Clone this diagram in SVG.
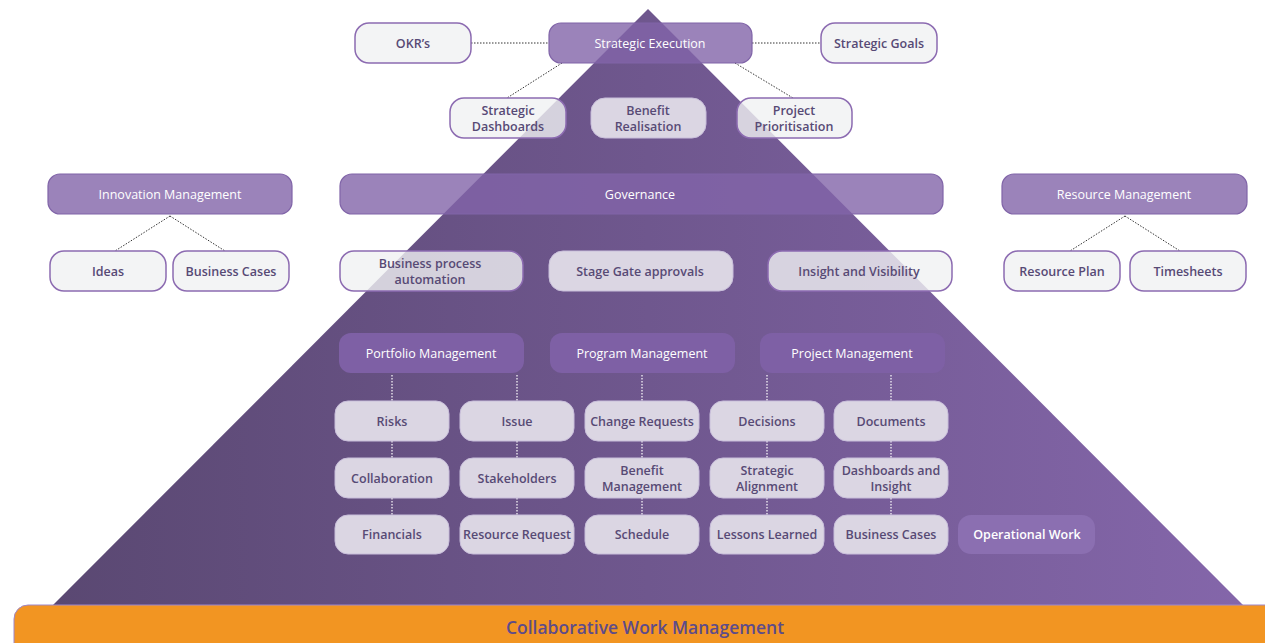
<svg xmlns="http://www.w3.org/2000/svg" width="1265" height="643" viewBox="0 0 1265 643">
<defs>
<linearGradient id="tri" x1="53" y1="0" x2="1243" y2="0" gradientUnits="userSpaceOnUse">
<stop offset="0" stop-color="#5a4872"/>
<stop offset="1" stop-color="#8466aa"/>
</linearGradient>
<style>
.lt{fill:#f0f1f2;fill-opacity:0.8;stroke:#8c6bb1;stroke-width:1.5}
.in{fill:#dbd6e3;stroke:#c9bfdb;stroke-width:1}
.pu{fill:#8264a9;fill-opacity:0.8;stroke:#8064a8;stroke-width:1.2}
.pm{fill:#7e60a5;stroke:none}
.op{fill:#8b6fb1;stroke:none}
text{font-family:"Open Sans","Noto Sans","Liberation Sans",sans-serif;font-size:12.5px;text-anchor:middle;dominant-baseline:central}
.td{fill:#574a75;font-weight:600}
.tw{fill:#ffffff;font-weight:500}
.dk{stroke:#333;stroke-width:1;stroke-dasharray:1.5 1.5;fill:none}
.wh{stroke:#ffffff;stroke-width:1.2;stroke-dasharray:1.5 1.5;fill:none}
</style>
</defs>
<rect width="1265" height="643" fill="#ffffff"/>
<polygon id="pyramid" points="648,9 53,605 1243,605" fill="url(#tri)"/>
<g id="connectors">
<line class="dk" x1="471" y1="43" x2="549" y2="43"/>
<line class="dk" x1="752" y1="43" x2="821" y2="43"/>
<line class="dk" x1="562" y1="63" x2="507" y2="98"/>
<line class="dk" x1="735" y1="63" x2="793" y2="98"/>
<line class="dk" x1="170" y1="216" x2="115" y2="251"/>
<line class="dk" x1="170" y1="216" x2="225" y2="251"/>
<line class="dk" x1="1125" y1="216" x2="1070" y2="251"/>
<line class="dk" x1="1125" y1="216" x2="1180" y2="251"/>
<path class="wh" d="M392 375V401M392 441V458M392 498V515M517 375V401M517 441V458M517 498V515M642 375V401M642 441V458M642 498V515M767 375V401M767 441V458M767 498V515M891 375V401M891 441V458M891 498V515"/>
</g>
<g id="okrs"><rect class="lt" x="355" y="23" width="116" height="40" rx="14"/><text class="td" x="413" y="43">OKR’s</text></g>
<g id="strategic-execution"><rect class="pu" x="549" y="23" width="203" height="40" rx="12"/><text class="tw" x="650" y="43">Strategic Execution</text></g>
<g id="strategic-goals"><rect class="lt" x="821" y="23" width="116" height="40" rx="14"/><text class="td" x="879" y="43">Strategic Goals</text></g>
<g id="strategic-dashboards"><rect class="lt" x="450" y="98" width="116" height="40" rx="14"/><text class="td" x="508" y="110">Strategic</text><text class="td" x="508" y="126">Dashboards</text></g>
<g id="benefit-realisation"><rect class="in" x="591" y="98" width="115" height="40" rx="14"/><text class="td" x="648" y="110">Benefit</text><text class="td" x="648" y="126">Realisation</text></g>
<g id="project-prioritisation"><rect class="lt" x="737" y="98" width="115" height="40" rx="14"/><text class="td" x="794" y="110">Project</text><text class="td" x="794" y="126">Prioritisation</text></g>
<g id="innovation-management"><rect class="pu" x="48" y="174" width="244" height="40" rx="12"/><text class="tw" x="170" y="194">Innovation Management</text></g>
<g id="governance"><rect class="pu" x="340" y="174" width="603" height="40" rx="12"/><text class="tw" x="640" y="194">Governance</text></g>
<g id="resource-management"><rect class="pu" x="1002" y="174" width="245" height="40" rx="12"/><text class="tw" x="1124" y="194">Resource Management</text></g>
<g id="ideas"><rect class="lt" x="50" y="251" width="116" height="40" rx="14"/><text class="td" x="108" y="271">Ideas</text></g>
<g id="business-cases-innov"><rect class="lt" x="173" y="251" width="116" height="40" rx="14"/><text class="td" x="231" y="271">Business Cases</text></g>
<g id="resource-plan"><rect class="lt" x="1004" y="251" width="116" height="40" rx="14"/><text class="td" x="1062" y="271">Resource Plan</text></g>
<g id="timesheets"><rect class="lt" x="1130" y="251" width="116" height="40" rx="14"/><text class="td" x="1188" y="271">Timesheets</text></g>
<g id="business-process-automation"><rect class="lt" x="340" y="251" width="183" height="40" rx="14"/><text class="td" x="430" y="263">Business process</text><text class="td" x="430" y="279">automation</text></g>
<g id="stage-gate-approvals"><rect class="in" x="549" y="251" width="184" height="40" rx="14"/><text class="td" x="640" y="271">Stage Gate approvals</text></g>
<g id="insight-visibility"><rect class="lt" x="768" y="251" width="184" height="40" rx="14"/><text class="td" x="859" y="271">Insight and Visibility</text></g>
<g id="portfolio-management"><rect class="pm" x="339" y="333" width="185" height="40" rx="12"/><text class="tw" x="431" y="353">Portfolio Management</text></g>
<g id="program-management"><rect class="pm" x="550" y="333" width="185" height="40" rx="12"/><text class="tw" x="642" y="353">Program Management</text></g>
<g id="project-management"><rect class="pm" x="760" y="333" width="185" height="40" rx="12"/><text class="tw" x="852" y="353">Project Management</text></g>
<g id="risks"><rect class="in" x="335" y="401" width="114" height="40" rx="13"/><text class="td" x="392" y="421">Risks</text></g>
<g id="issue"><rect class="in" x="460" y="401" width="114" height="40" rx="13"/><text class="td" x="517" y="421">Issue</text></g>
<g id="change-requests"><rect class="in" x="585" y="401" width="114" height="40" rx="13"/><text class="td" x="642" y="421">Change Requests</text></g>
<g id="decisions"><rect class="in" x="710" y="401" width="114" height="40" rx="13"/><text class="td" x="767" y="421">Decisions</text></g>
<g id="documents"><rect class="in" x="834" y="401" width="114" height="40" rx="13"/><text class="td" x="891" y="421">Documents</text></g>
<g id="collaboration"><rect class="in" x="335" y="458" width="114" height="40" rx="13"/><text class="td" x="392" y="478">Collaboration</text></g>
<g id="stakeholders"><rect class="in" x="460" y="458" width="114" height="40" rx="13"/><text class="td" x="517" y="478">Stakeholders</text></g>
<g id="benefit-management"><rect class="in" x="585" y="458" width="114" height="40" rx="13"/><text class="td" x="642" y="470">Benefit</text><text class="td" x="642" y="486">Management</text></g>
<g id="strategic-alignment"><rect class="in" x="710" y="458" width="114" height="40" rx="13"/><text class="td" x="767" y="470">Strategic</text><text class="td" x="767" y="486">Alignment</text></g>
<g id="dashboards-insight"><rect class="in" x="834" y="458" width="114" height="40" rx="13"/><text class="td" x="891" y="470">Dashboards and</text><text class="td" x="891" y="486">Insight</text></g>
<g id="financials"><rect class="in" x="335" y="515" width="114" height="39" rx="13"/><text class="td" x="392" y="534">Financials</text></g>
<g id="resource-request"><rect class="in" x="460" y="515" width="114" height="39" rx="13"/><text class="td" x="517" y="534">Resource Request</text></g>
<g id="schedule"><rect class="in" x="585" y="515" width="114" height="39" rx="13"/><text class="td" x="642" y="534">Schedule</text></g>
<g id="lessons-learned"><rect class="in" x="710" y="515" width="114" height="39" rx="13"/><text class="td" x="767" y="534">Lessons Learned</text></g>
<g id="business-cases"><rect class="in" x="834" y="515" width="114" height="39" rx="13"/><text class="td" x="891" y="534">Business Cases</text></g>
<g id="operational-work"><rect class="op" x="958" y="515" width="137" height="39" rx="13"/><text class="tw" x="1027" y="534" style="font-weight:600">Operational Work</text></g>
<g id="collaborative-work-management"><rect x="14" y="605" width="1270" height="60" rx="14" fill="#f29522" stroke="#9d86cc" stroke-width="1"/><text x="645" y="627" style="font-size:17.5px;fill:#5d4b8a;font-weight:600">Collaborative Work Management</text></g>
</svg>
